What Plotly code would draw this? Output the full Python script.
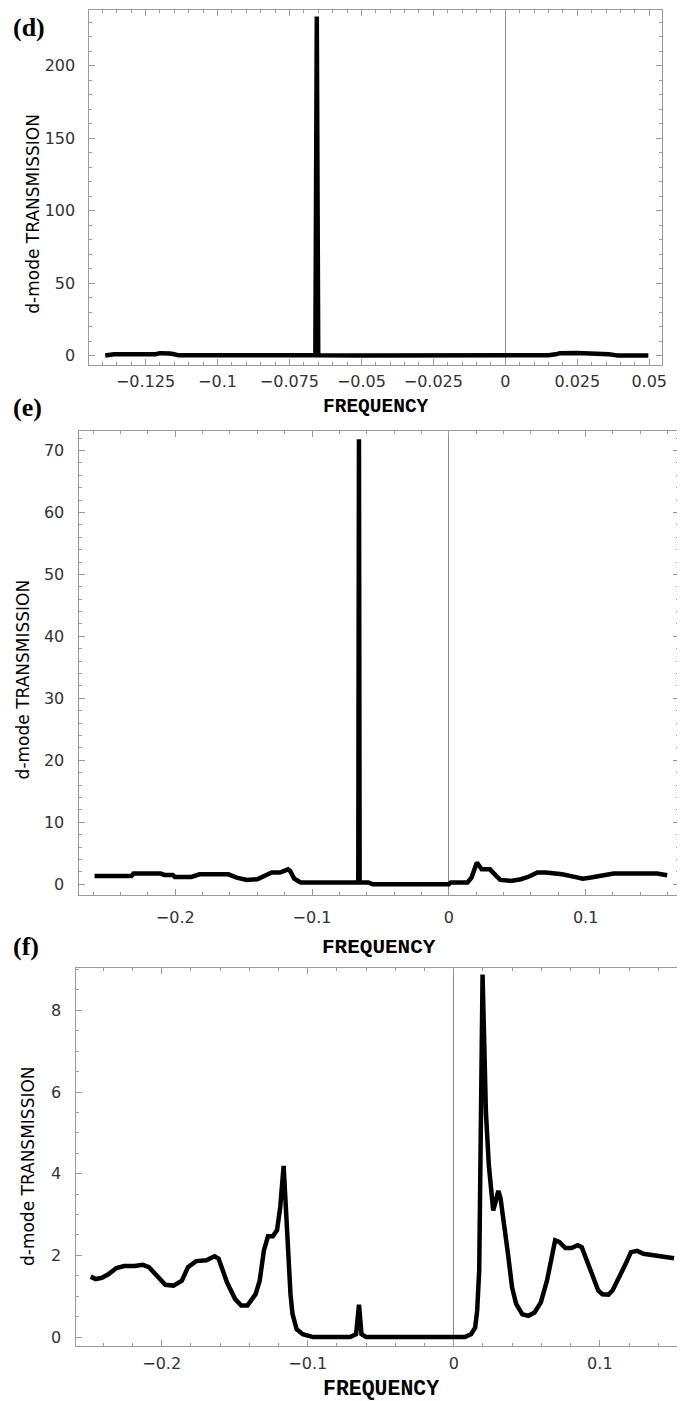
import plotly.graph_objects as go

# ---------------- data ----------------
d_freq = [-0.1390, -0.1375, -0.1360, -0.1300, -0.1250, -0.1215, -0.1200, -0.1180, -0.1165, -0.1150,
          -0.1135, -0.1000, -0.0800, -0.0660, -0.0655, -0.0650, -0.0500, -0.0250, 0.0000, 0.0150,
          0.0175, 0.0190, 0.0250, 0.0305, 0.0320, 0.0360, 0.0376, 0.0390, 0.0450, 0.0497]
d_trans = [0.2, 0.4, 1.0, 1.0, 1.0, 1.1, 1.8, 1.8, 1.5, 1.0,
           0.3, 0.3, 0.3, 0.3, 234, 0.3, 0.2, 0.2, 0.2, 0.3,
           1.0, 1.8, 1.9, 1.8, 1.2, 1.1, 0.6, 0.2, 0.2, 0.2]

e_freq = [-0.259, -0.232, -0.2304, -0.2108, -0.2078, -0.2018, -0.2003, -0.1883, -0.1822, -0.1611,
          -0.1551, -0.1476, -0.140, -0.134, -0.1295, -0.1235, -0.1175, -0.116, -0.113, -0.1084,
          -0.0678, -0.0662, -0.0657, -0.0652, -0.0633, -0.0587, -0.0557, 0.0, 0.0015, 0.0136,
          0.0166, 0.0205, 0.024, 0.0301, 0.0346, 0.0377, 0.0452, 0.0527, 0.0587, 0.0648,
          0.0708, 0.0828, 0.0919, 0.0979, 0.1039, 0.1114, 0.1205, 0.1521, 0.1596]
e_trans = [1.34, 1.34, 1.72, 1.72, 1.5, 1.5, 1.18, 1.18, 1.6, 1.6,
           1.07, 0.7, 0.8, 1.34, 1.88, 1.88, 2.4, 2.15, 0.9, 0.27,
           0.27, 0.3, 71.8, 0.3, 0.27, 0.27, 0.0, 0.0, 0.27, 0.27,
           1.07, 3.5, 2.4, 2.4, 1.34, 0.7, 0.54, 0.8, 1.24, 1.88,
           1.88, 1.6, 1.18, 0.9, 1.07, 1.34, 1.72, 1.72, 1.45]

f_freq = [-0.2486, -0.2452, -0.241, -0.2368, -0.231, -0.2256, -0.2185, -0.213, -0.2087, -0.2031,
          -0.1975, -0.1919, -0.1862, -0.182, -0.1764, -0.1694, -0.1638, -0.161, -0.1553, -0.1497,
          -0.1455, -0.1413, -0.1357, -0.1329, -0.130, -0.1272, -0.1239, -0.121, -0.1188, -0.1165,
          -0.1150, -0.1132, -0.1118, -0.1104, -0.1076, -0.1034, -0.0963, -0.0710, -0.0669, -0.0649,
          -0.0632, -0.060, 0.0076, 0.0118, 0.0146, 0.016, 0.0174, 0.0197, 0.021, 0.022,
          0.024, 0.026, 0.027, 0.0285, 0.0305, 0.032, 0.0343, 0.0371, 0.0399, 0.0427,
          0.0469, 0.0511, 0.0553, 0.0596, 0.0638, 0.0666, 0.0694, 0.0722, 0.0764, 0.0806,
          0.0848, 0.0876, 0.0904, 0.0947, 0.0989, 0.1017, 0.1059, 0.1087, 0.1129, 0.1171,
          0.1213, 0.1256, 0.1298, 0.1368, 0.1452, 0.1508]
f_trans = [1.48, 1.42, 1.45, 1.53, 1.69, 1.74, 1.74, 1.77, 1.71, 1.48,
           1.28, 1.26, 1.38, 1.71, 1.86, 1.88, 1.98, 1.92, 1.34, 0.93,
           0.77, 0.77, 1.05, 1.38, 2.12, 2.47, 2.47, 2.62, 3.19, 4.19,
           3.0, 1.63, 1.05, 0.56, 0.19, 0.07, 0.0, 0.0, 0.07, 0.79,
           0.07, 0.0, 0.0, 0.07, 0.23, 0.64, 1.63, 8.88, 7.0, 5.5,
           4.2, 3.3, 3.1, 3.3, 3.58, 3.4, 2.86, 2.04, 1.22, 0.81,
           0.56, 0.52, 0.60, 0.85, 1.38, 1.88, 2.37, 2.33, 2.18, 2.18,
           2.25, 2.2, 1.92, 1.55, 1.14, 1.05, 1.04, 1.14, 1.42, 1.75,
           2.08, 2.11, 2.04, 2.0, 1.96, 1.93]

d_xticks = [-0.125, -0.1, -0.075, -0.05, -0.025, 0, 0.025, 0.05]
d_xlabels = ["\u22120.125", "\u22120.1", "\u22120.075", "\u22120.05", "\u22120.025", "0", "0.025", "0.05"]
e_xticks = [-0.2, -0.1, 0, 0.1]
e_xlabels = ["\u22120.2", "\u22120.1", "0", "0.1"]
f_xticks = [-0.2, -0.1, 0, 0.1]
f_xlabels = ["\u22120.2", "\u22120.1", "0", "0.1"]
d_yticks = [0, 50, 100, 150, 200]
e_yticks = [0, 10, 20, 30, 40, 50, 60, 70]
f_yticks = [0, 2, 4, 6, 8]

panel_names = ["(d)", "(e)", "(f)"]
x_title = "FREQUENCY"
y_title = "d-mode TRANSMISSION"

# ---------------- layout helpers ----------------
W, H = 685, 1401
def xdom(l, r):
    return [l / W, r / W]
def ydom(top, bottom):
    return [1 - bottom / H, 1 - top / H]

FRAME = "#9a9a9a"
TICKFONT = dict(family="DejaVu Sans", size=16, color="#333333")

def axis(dom, rng, tickvals, ticktext, minor_dtick, zero=False, standoff=8):
    return dict(
        domain=dom, range=rng, autorange=False,
        showline=True, linecolor=FRAME, linewidth=1, mirror="allticks",
        ticks="inside", ticklen=6, tickcolor=FRAME, tickwidth=1,
        tickvals=tickvals, ticktext=ticktext, tickfont=TICKFONT,
        ticklabelstandoff=standoff,
        showgrid=False,
        zeroline=zero, zerolinecolor="#8a8a8a", zerolinewidth=1,
        minor=dict(ticks="inside", ticklen=3, tickcolor=FRAME, dtick=minor_dtick, showgrid=False),
        fixedrange=True,
    )

fig = go.Figure()
line = dict(color="black", width=4.5)
fig.add_trace(go.Scatter(x=d_freq, y=d_trans, mode="lines", line=line, xaxis="x", yaxis="y",
                         showlegend=False, hoverinfo="skip"))
fig.add_trace(go.Scatter(x=e_freq, y=e_trans, mode="lines", line=line, xaxis="x2", yaxis="y2",
                         showlegend=False, hoverinfo="skip"))
fig.add_trace(go.Scatter(x=f_freq, y=f_trans, mode="lines", line=line, xaxis="x3", yaxis="y3",
                         showlegend=False, hoverinfo="skip"))

# panel frames (pixel positions)
d_box = dict(l=82, r=659, t=2, b=357)
e_box = dict(l=72, r=676, t=423, b=888)
f_box = dict(l=68, r=683, t=961, b=1339)

fig.update_layout(
    width=W, height=H,
    margin=dict(l=0, r=0, t=0, b=0),
    paper_bgcolor="white", plot_bgcolor="white",
    xaxis=dict(axis(xdom(d_box["l"], d_box["r"]), [-0.1445, 0.0545], d_xticks, d_xlabels, 0.005, zero=True, standoff=2), anchor="y"),
    yaxis=dict(axis(ydom(d_box["t"], d_box["b"]), [-6.2, 238.5], d_yticks, [str(v) for v in d_yticks], 10, standoff=10), anchor="x"),
    xaxis2=dict(axis(xdom(e_box["l"], e_box["r"]), [-0.27, 0.1683], e_xticks, e_xlabels, 0.02, zero=True, standoff=7), anchor="y2"),
    yaxis2=dict(axis(ydom(e_box["t"], e_box["b"]), [-1.8, 73.2], e_yticks, [str(v) for v in e_yticks], 2, standoff=11), anchor="x2"),
    xaxis3=dict(axis(xdom(f_box["l"], f_box["r"]), [-0.259, 0.159], f_xticks, f_xlabels, 0.02, zero=True, standoff=3), anchor="y3"),
    yaxis3=dict(axis(ydom(f_box["t"], f_box["b"]), [-0.22, 9.03], f_yticks, [str(v) for v in f_yticks], 0.5, standoff=10), anchor="x3"),
)

ann = []
# panel labels
for name, ypx in zip(panel_names, [20, 400, 939]):
    ann.append(dict(text=f"<b>{name}</b>", x=3 / W, y=1 - ypx / H, xref="paper", yref="paper",
                    xanchor="left", yanchor="middle", showarrow=False,
                    font=dict(family="Liberation Serif", size=26, color="black")))
# x titles
for cx, ypx, sz in [((82 + 659) / 2, 399, 19.5), ((72 + 676) / 2, 940, 21), ((68 + 683) / 2, 1382, 21.5)]:
    ann.append(dict(text=f"<b>{x_title}</b>", x=cx / W, y=1 - ypx / H, xref="paper", yref="paper",
                    xanchor="center", yanchor="middle", showarrow=False,
                    font=dict(family="Liberation Mono", size=sz, color="black")))
# y titles
for xpx, ypx in [(25, 206), (15, 672), (20, 1159)]:
    ann.append(dict(text=y_title, x=xpx / W, y=1 - ypx / H, xref="paper", yref="paper",
                    xanchor="center", yanchor="middle", showarrow=False, textangle=-90,
                    font=dict(family="DejaVu Sans", size=17, color="black")))
fig.update_layout(annotations=ann)

fig.write_html("out.html")
